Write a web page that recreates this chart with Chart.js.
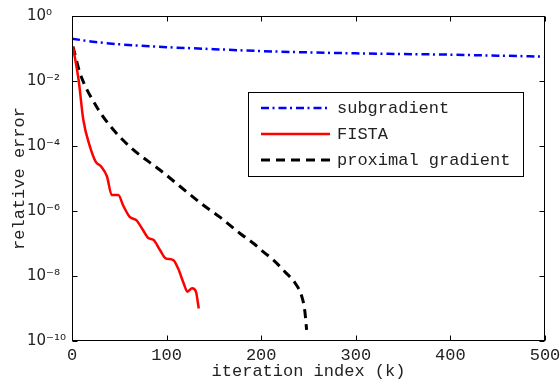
<!DOCTYPE html>
<html>
<head>
<meta charset="utf-8">
<script src="https://cdn.jsdelivr.net/npm/chart.js@4"></script>
<style>
  body { margin: 0; background: #fff; }
  #wrap { width: 560px; height: 380px; }
</style>
</head>
<body>
<div id="wrap"><canvas id="myChart"></canvas></div>
<script>
// Values (relative error per iteration)
const subIter = [0, 25, 50, 100, 150, 200, 250, 300, 350, 400, 450, 500];
const subErr = [0.2, 0.158, 0.135, 0.11, 0.0955, 0.0832, 0.0759, 0.0708, 0.0676, 0.0646, 0.0603, 0.0562];

const fistaIter = [1, 7, 12, 19, 25, 31, 37, 42, 49, 54, 61, 68, 75, 81, 86, 93, 99, 107, 112, 118, 122, 127, 131, 134];
const fistaErr = [0.115, 1.07e-2, 6.3e-4, 9.5e-5, 3.3e-5, 2.3e-5, 1.15e-5, 3.1e-6, 3.1e-6, 1.5e-6, 6.6e-7, 5.2e-7,
  2.6e-7, 1.45e-7, 1.3e-7, 6.3e-8, 3.5e-8, 3.1e-8, 1.75e-8, 6.0e-9, 3.3e-9, 4.2e-9, 3.3e-9, 1.0e-9];

const proxIter = [1, 8.5, 26, 44, 65, 93, 139, 156, 178, 192, 202, 213, 225, 236, 243, 246, 248];
const proxErr = [0.115, 1.74e-2, 1.62e-3, 3.1e-4, 7.6e-5, 1.82e-5, 1.5e-6, 6.6e-7, 2.0e-7, 1.0e-7, 5.6e-8,
  3.1e-8, 1.35e-8, 6.0e-9, 2.3e-9, 8.9e-10, 2.2e-10];

const xTicks = [0, 100, 200, 300, 400, 500];
const yTicks = [1, 1e-2, 1e-4, 1e-6, 1e-8, 1e-10];

const mono = '"Liberation Mono", "DejaVu Sans Mono", monospace';
const sup = { "-": "\u207B", 0: "\u2070", 1: "\u00B9", 2: "\u00B2", 3: "\u00B3", 4: "\u2074",
  5: "\u2075", 6: "\u2076", 7: "\u2077", 8: "\u2078", 9: "\u2079" };

function toPoints(xs, ys) {
  return xs.map((x, i) => ({ x: x, y: ys[i] }));
}

function powLabel(value) {
  const e = String(Math.round(Math.log10(value)));
  return "10" + e.split("").map((c) => sup[c]).join("");
}

// frame, inward ticks and the legend box inside the plot
const framePlugin = {
  id: "frame",
  afterDraw(chart) {
    const { ctx, chartArea: a, scales } = chart;
    const l = Math.round(a.left) + 0.5, r = Math.round(a.right) - 0.5;
    const t = Math.round(a.top) + 0.5, b = Math.round(a.bottom) - 0.5;
    ctx.save();
    ctx.strokeStyle = "#000";
    ctx.lineWidth = 1;
    ctx.beginPath();
    scales.x.ticks.forEach((tk) => {
      const px = Math.round(scales.x.getPixelForValue(tk.value)) + 0.5;
      ctx.moveTo(px, b); ctx.lineTo(px, b - 5);
      ctx.moveTo(px, t); ctx.lineTo(px, t + 5);
    });
    scales.y.ticks.forEach((tk) => {
      const py = Math.round(scales.y.getPixelForValue(tk.value)) + 0.5;
      ctx.moveTo(l, py); ctx.lineTo(l + 5, py);
      ctx.moveTo(r, py); ctx.lineTo(r - 5, py);
    });
    ctx.stroke();
    ctx.strokeRect(l, t, r - l, b - t);

    // legend
    const lx = 248.5, ly = 92.5, lw = 275, lh = 84;
    ctx.fillStyle = "#fff";
    ctx.fillRect(lx, ly, lw, lh);
    ctx.strokeRect(lx, ly, lw, lh);
    const rows = [108, 134, 160];
    ctx.font = "17px " + mono;
    ctx.textBaseline = "middle";
    chart.data.datasets.forEach((ds, i) => {
      ctx.save();
      ctx.strokeStyle = ds.borderColor;
      ctx.lineWidth = ds.borderWidth;
      ctx.setLineDash(ds.borderDash || []);
      ctx.beginPath();
      ctx.moveTo(261, rows[i]);
      ctx.lineTo(330, rows[i]);
      ctx.stroke();
      ctx.restore();
      ctx.fillStyle = "#222";
      ctx.fillText(ds.label, 337, rows[i]);
    });
    ctx.restore();
  },
};

const ctx = document.getElementById("myChart");
new Chart(ctx, {
  type: "line",
  data: {
    datasets: [
      {
        label: "subgradient",
        data: toPoints(subIter, subErr),
        borderColor: "#0000ff",
        borderWidth: 2.5,
        borderDash: [8, 3.5, 2, 4],
      },
      {
        label: "FISTA",
        data: toPoints(fistaIter, fistaErr),
        borderColor: "#ff0000",
        borderWidth: 2.5,
      },
      {
        label: "proximal gradient",
        data: toPoints(proxIter, proxErr),
        borderColor: "#000000",
        borderWidth: 3,
        borderDash: [9, 6],
      },
    ],
  },
  options: {
    responsive: true,
    maintainAspectRatio: false,
    animation: false,
    layout: { padding: { left: 27, top: 16, right: 15, bottom: 0 } },
    elements: {
      point: { radius: 0 },
      line: { cubicInterpolationMode: "monotone", fill: false },
    },
    plugins: {
      legend: { display: false },
      tooltip: { enabled: false },
    },
    scales: {
      x: {
        type: "linear",
        min: 0,
        max: 500,
        grid: { display: false, drawTicks: false },
        border: { display: false },
        afterBuildTicks: (scale) => {
          scale.ticks = xTicks.map((v) => ({ value: v }));
        },
        afterFit: (scale) => {
          scale.height = 39;
          scale.paddingLeft = 0;
          scale.paddingRight = 0;
        },
        ticks: {
          padding: 4,
          color: "#222",
          font: { family: mono, size: 17 },
          maxRotation: 0,
        },
        title: {
          display: true,
          text: "iteration index (k)",
          color: "#222",
          font: { family: mono, size: 17 },
          padding: { top: 0, bottom: -2 },
        },
      },
      y: {
        type: "logarithmic",
        min: 1e-10,
        max: 1,
        grid: { display: false, drawTicks: false },
        border: { display: false },
        afterBuildTicks: (scale) => {
          scale.ticks = yTicks.map((v) => ({ value: v }));
        },
        afterFit: (scale) => {
          scale.width = 45;
          scale.paddingTop = 0;
          scale.paddingBottom = 0;
        },
        ticks: {
          autoSkip: false,
          crossAlign: "far",
          color: "#222",
          font: { family: '"DejaVu Sans"', size: 15 },
          callback: (value) => powLabel(value),
        },
        title: {
          display: true,
          text: "relative error",
          color: "#222",
          font: { family: mono, size: 17 },
          padding: { top: -18, bottom: 0 },
        },
      },
    },
  },
  plugins: [framePlugin],
});
</script>
</body>
</html>
